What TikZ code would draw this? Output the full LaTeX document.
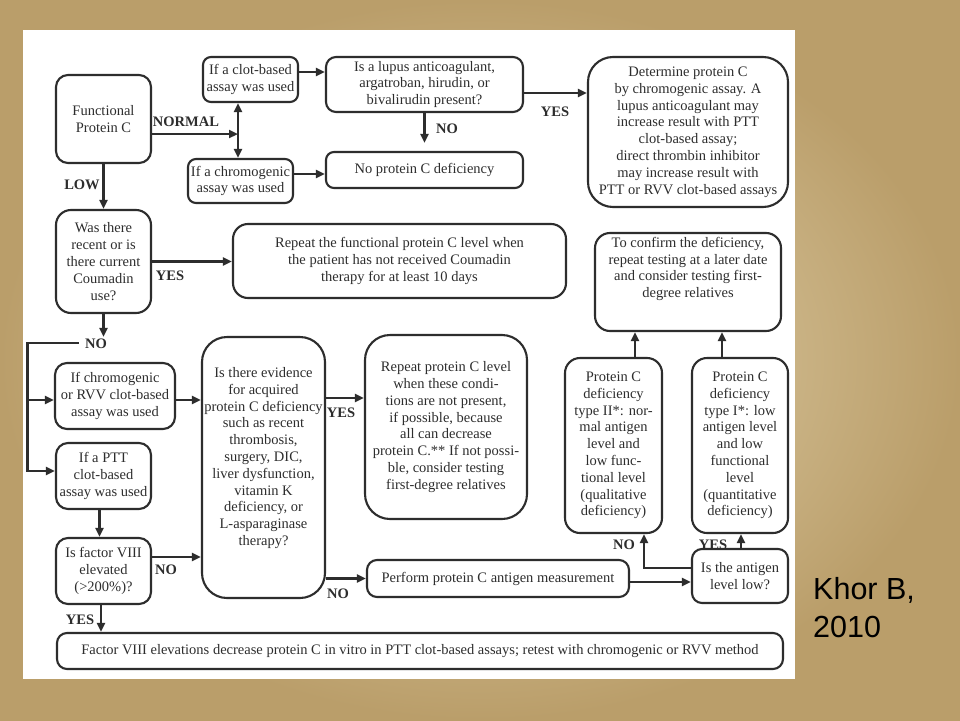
\documentclass[tikz,border=0pt]{standalone}
\usepackage{fontspec}
\setmainfont{Liberation Serif}
\newfontfamily\khorfont{Liberation Sans}
\usetikzlibrary{arrows.meta,calc}
\definecolor{ink}{RGB}{45,45,45}
\definecolor{goldout}{RGB}{186,158,106}
\definecolor{goldin}{RGB}{230,216,180}
\begin{document}
\begin{tikzpicture}[x=1pt,y=-1pt,
  pbox/.style={draw=ink, line width=2.1pt, rounded corners=#1, fill=white, text=ink,
    align=center, inner sep=1pt, font=\fontsize{14.5}{16.8}\selectfont},
  pbox/.default=10pt,
  txt/.style={text=ink, align=center, inner sep=1pt, font=\fontsize{14.5}{16.8}\selectfont},
  arr/.style={draw=ink, line width=2.4pt, -{Triangle[length=9pt,width=8pt]}},
  lbl/.style={text=ink, inner sep=1pt, font=\fontsize{14.5}{16}\selectfont\bfseries},
]
\useasboundingbox (0,0) rectangle (960,720);
\shade[inner color=goldin, outer color=goldout] (0,0) rectangle (960,720);
\fill[white] (23,30) rectangle (795,679);

% boxes
\node[pbox=12pt, minimum width=95pt, minimum height=88pt] (fpc) at (103.5,119) {Functional\\Protein C};
\node[pbox=8pt, minimum width=95pt, minimum height=45pt] (clot) at (250.5,79.5) {If a clot-based\\assay was used};
\node[pbox=8pt, minimum width=105pt, minimum height=44pt] (chromo) at (240.5,181) {If a chromogenic\\assay was used};
\node[pbox=10pt, minimum width=197pt, minimum height=55pt] (lupus) at (424.5,84.5) {Is a lupus anticoagulant,\\argatroban, hirudin, or\\bivalirudin present?};
\node[pbox=8pt, minimum width=197pt, minimum height=36pt] (nopc) at (424.5,170) {No protein C deficiency};
\node[pbox=25pt, minimum width=200pt, minimum height=150pt] (determ) at (688,132) {Determine protein C\\by chromogenic assay. A\\lupus anticoagulant may\\increase result with PTT\\clot-based assay;\\direct thrombin inhibitor\\may increase result with\\PTT or RVV clot-based assays};
\node[pbox=15pt, minimum width=95pt, minimum height=103pt] (coum) at (103.5,261.5) {Was there\\recent or is\\there current\\Coumadin\\use?};
\node[pbox=15pt, minimum width=333pt, minimum height=74pt] (repfun) at (399.5,261) {Repeat the functional protein C level when\\the patient has not received Coumadin\\therapy for at least 10 days};
\node[pbox=15pt, minimum width=186pt, minimum height=98pt] (confirm) at (688,282) {};
\node[txt] (confirmtxt) at (688,269) {To confirm the deficiency,\\repeat testing at a later date\\and consider testing first-\\degree relatives};
\node[pbox=12pt, minimum width=120pt, minimum height=66pt] (rvv) at (115,396) {If chromogenic\\or RVV clot-based\\assay was used};
\node[pbox=12pt, minimum width=95pt, minimum height=66pt] (ptt) at (103.5,476) {If a PTT\\clot-based\\assay was used};
\node[pbox=25pt, minimum width=123pt, minimum height=261pt] (evid) at (263.5,467.5) {};
\node[txt] (evidtxt) at (263.5,458) {Is there evidence\\for acquired\\protein C deficiency\\such as recent\\thrombosis,\\surgery, DIC,\\liver dysfunction,\\vitamin K\\deficiency, or\\L-asparaginase\\therapy?};
\node[pbox=25pt, minimum width=162pt, minimum height=184pt] (reppc) at (446,427) {Repeat protein C level\\when these condi-\\tions are not present,\\if possible, because\\all can decrease\\protein C.** If not possi-\\ble, consider testing\\first-degree relatives};
\node[pbox=15pt, minimum width=97pt, minimum height=175pt] (type2) at (613.5,445.5) {Protein C\\deficiency\\type II*: nor-\\mal antigen\\level and\\low func-\\tional level\\(qualitative\\deficiency)};
\node[pbox=15pt, minimum width=96pt, minimum height=175pt] (type1) at (740,445.5) {Protein C\\deficiency\\type I*: low\\antigen level\\and low\\functional\\level\\(quantitative\\deficiency)};
\node[pbox=12pt, minimum width=95pt, minimum height=66pt] (f8) at (103.5,571) {Is factor VIII\\elevated\\(>200\%)?};
\node[pbox=10pt, minimum width=262pt, minimum height=37pt] (perform) at (498,578.5) {Perform protein C antigen measurement};
\node[pbox=10pt, minimum width=96pt, minimum height=54pt] (antigen) at (740,576) {Is the antigen\\level low?};
\node[pbox=10pt, minimum width=726pt, minimum height=36pt] (bottom) at (420,651) {Factor VIII elevations decrease protein C in vitro in PTT clot-based assays; retest with chromogenic or RVV method};

% labels
\node[lbl] (lnormal) at (186,122) {NORMAL};
\node[lbl] (llow) at (82,185) {LOW};
\node[lbl] (lno1) at (447,129) {NO};
\node[lbl] (lyes1) at (555,112) {YES};
\node[lbl] (lyes2) at (170,276) {YES};
\node[lbl] (nolbl) at (96,344) {NO};
\node[lbl] (lyes3) at (341,413) {YES};
\node[lbl] (lno3) at (166,570) {NO};
\node[lbl] (lno4) at (338,594) {NO};
\node[lbl] (lno5) at (624,545) {NO};
\node[lbl] (lyes4) at (713,545) {YES};
\node[lbl] (lyes5) at (80,620) {YES};

\node[anchor=base west, inner sep=0pt, font=\khorfont\fontsize{30.5}{36}\selectfont] (khor1) at (813,599) {Khor B,};
\node[anchor=base west, inner sep=0pt, font=\khorfont\fontsize{30.5}{36}\selectfont] (khor2) at (813,637) {2010};

% connectors
\coordinate (j) at (238,134);
\coordinate (fe) at ([yshift=-15pt]fpc.east);
\draw[arr] (fe) -- (j);
\draw[draw=ink, line width=2.4pt, {Triangle[length=9pt,width=8pt]}-{Triangle[length=9pt,width=8pt]}] (j |- clot.south) -- (j |- chromo.north);
\coordinate (ce) at ([yshift=7.5pt]clot.east);
\draw[arr] (ce) -- (ce -| lupus.west);
\coordinate (che) at ([yshift=7pt]chromo.east);
\draw[arr] (che) -- (che -| nopc.west);
\draw[arr, shorten >=8pt] (lupus.south) -- (nopc.north);
\coordinate (le) at ([yshift=-8.5pt]lupus.east);
\draw[arr] (le) -- (le -| determ.west);
\draw[arr] (fpc.south) -- (coum.north);
\draw[arr] (coum.east) -- (coum.east -| repfun.west);
\draw[arr, shorten >=1pt] (coum.south) -- (coum.south |- nolbl.north);
\coordinate (bl) at (27.5,342.7);
\coordinate (pw) at ([yshift=5pt]ptt.west);
\draw[arr] ([xshift=-5pt]nolbl.west |- bl) -- (bl) |- (pw);
\coordinate (rvw) at ([yshift=-4pt]rvv.west);
\draw[arr] (bl |- rvw) -- (rvw);
\coordinate (rve) at ([yshift=-4pt]rvv.east);
\draw[arr] (rve) -- (rve -| evid.west);
\coordinate (pb) at ([xshift=-4pt]ptt.south);
\draw[arr] (pb) -- (pb |- f8.north);
\coordinate (f8e) at ([yshift=14pt]f8.east);
\draw[arr] (f8e) -- (f8e -| evid.west);
\coordinate (f8b) at ([xshift=-2.5pt]f8.south);
\draw[arr] (f8b) -- (f8b |- bottom.north);
\coordinate (eve) at ([yshift=69.5pt]evid.east);
\draw[arr] (eve) -- (eve -| reppc.west);
\draw[arr] (perform.west -| evid.east) -- (perform.west);
\coordinate (pe) at ([yshift=-3.5pt]perform.east);
\draw[arr] (pe) -- (pe -| antigen.west);
\coordinate (aw) at ([yshift=8pt]antigen.west);
\coordinate (t2b) at ([xshift=30.5pt]type2.south);
\draw[arr] (aw) -| (t2b);
\coordinate (anb) at ([xshift=1pt]antigen.north);
\draw[arr] (anb) -- (anb |- type1.south);
\coordinate (t2t) at ([xshift=21.5pt]type2.north);
\draw[arr] (t2t) -- (t2t |- confirm.south);
\coordinate (t1t) at ([xshift=-18pt]type1.north);
\draw[arr] (t1t) -- (t1t |- confirm.south);
\end{tikzpicture}
\end{document}
